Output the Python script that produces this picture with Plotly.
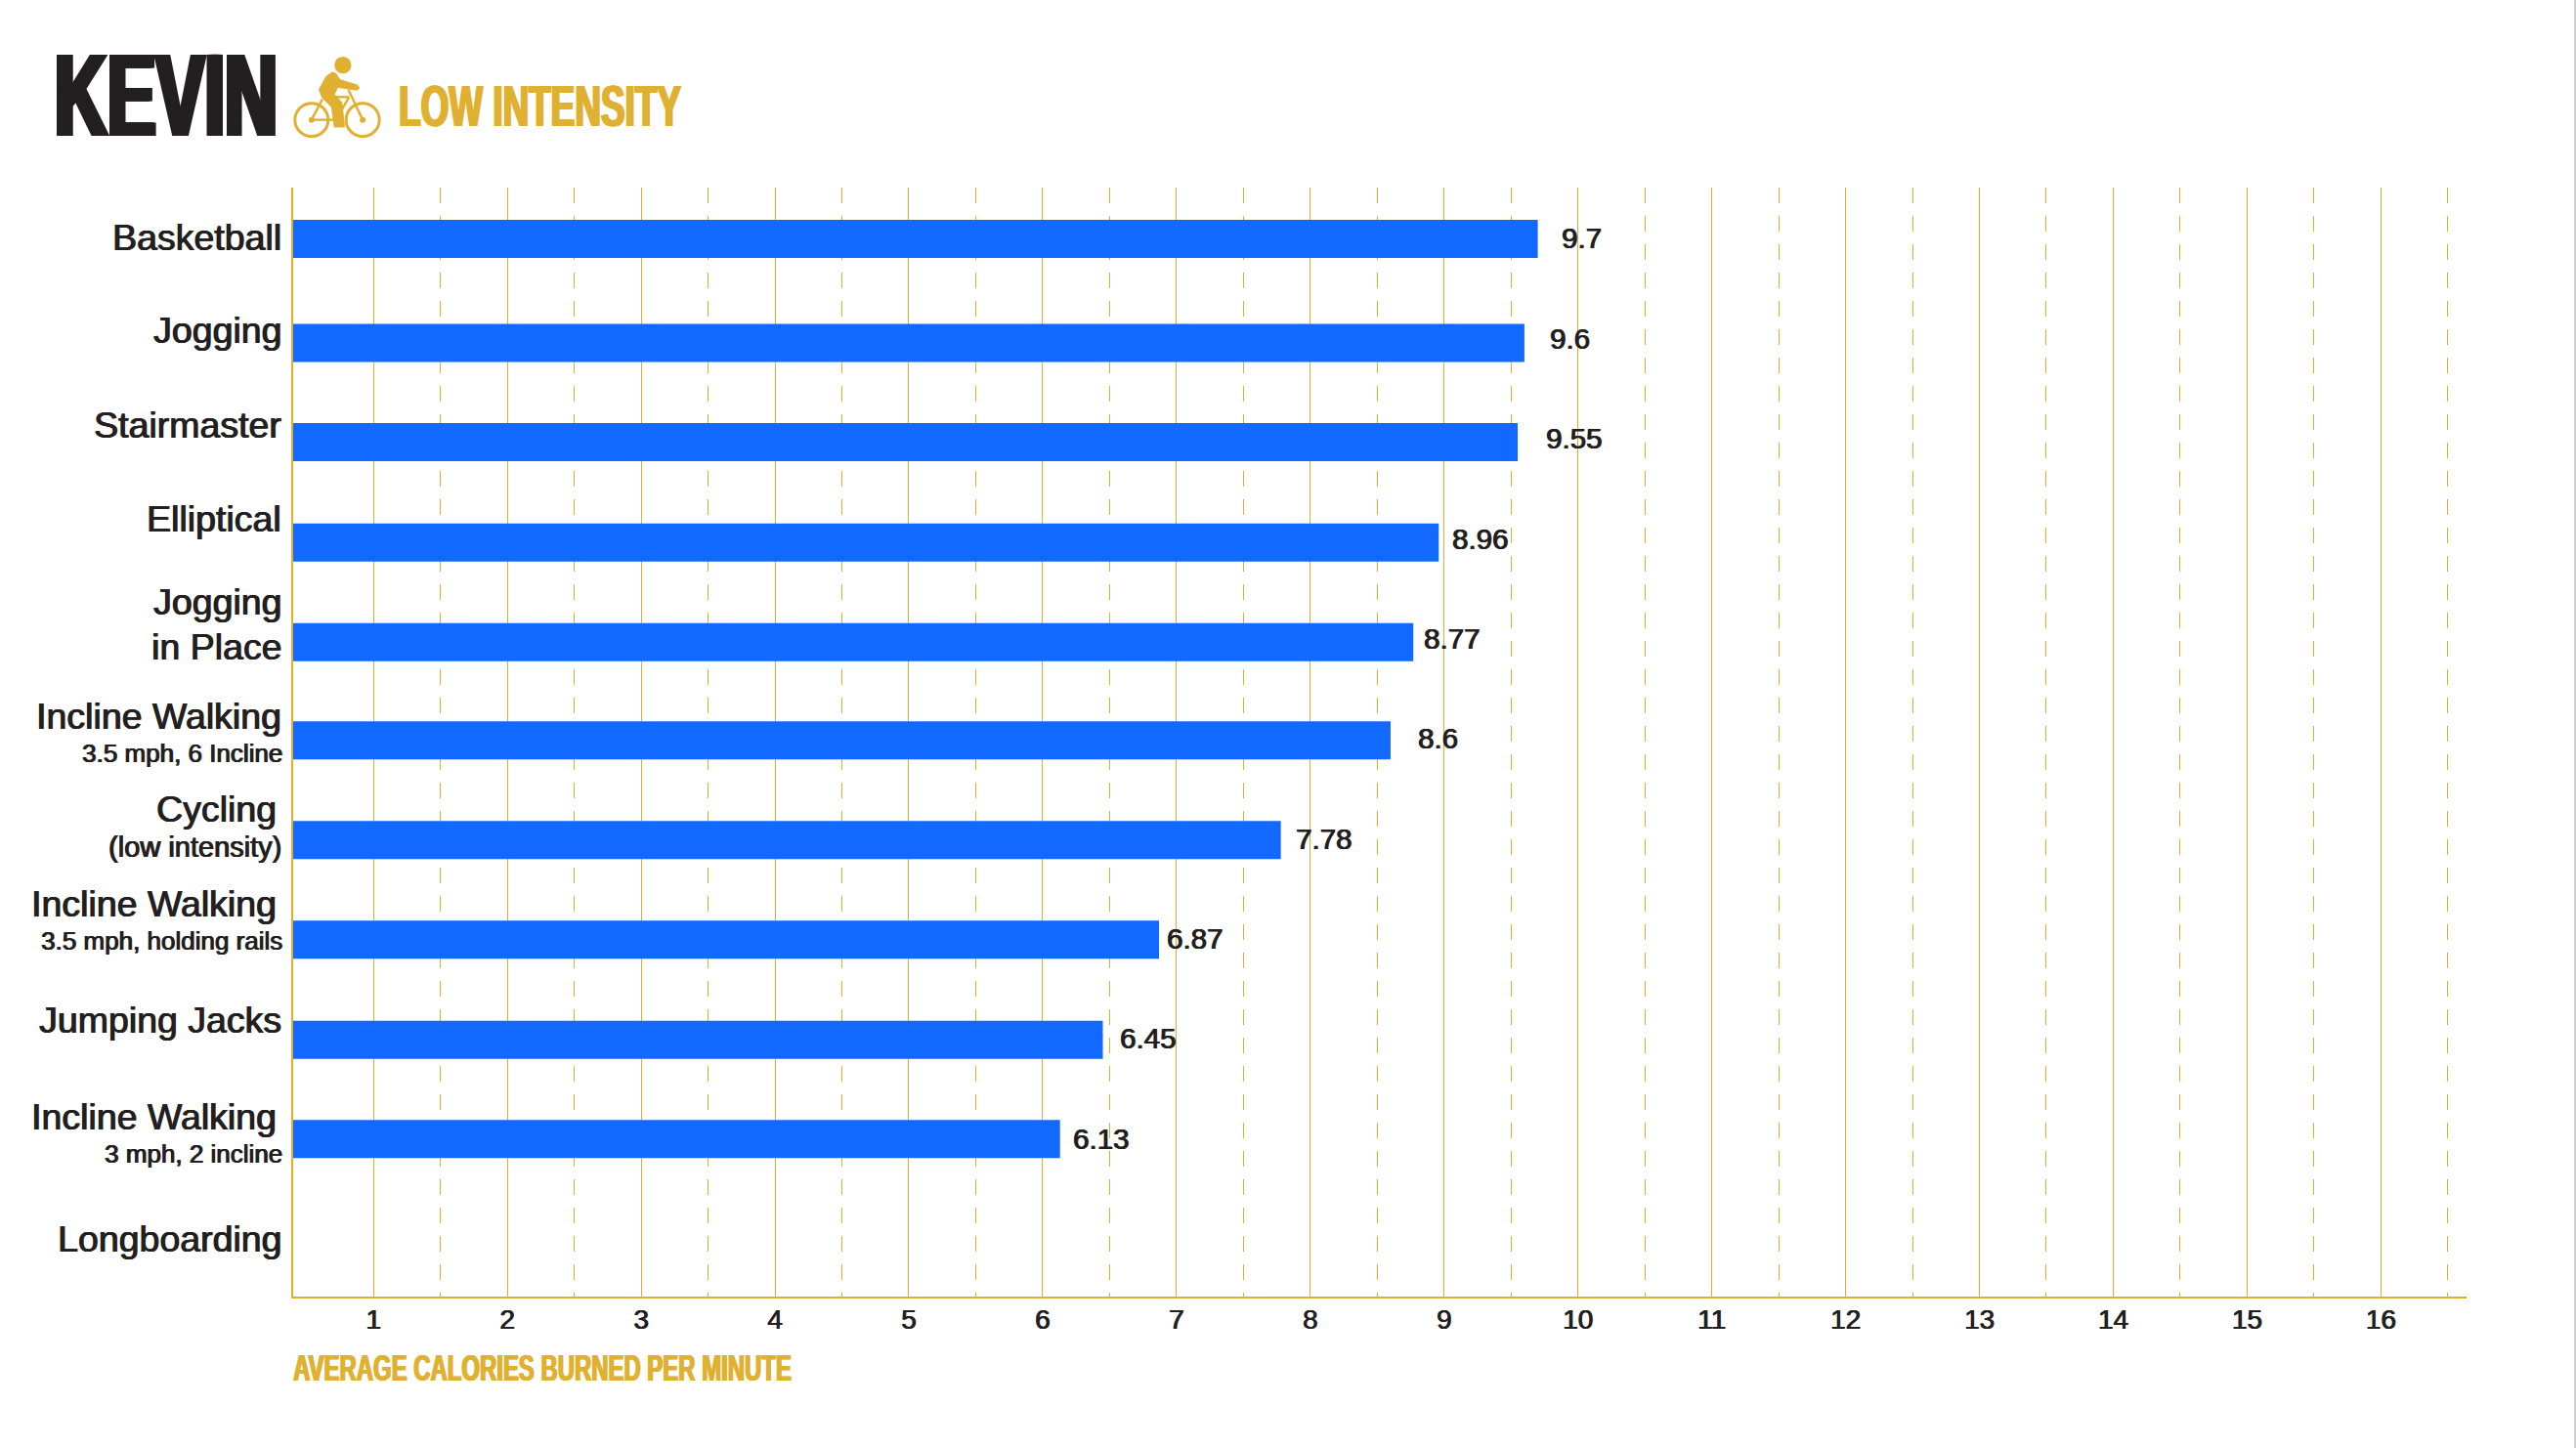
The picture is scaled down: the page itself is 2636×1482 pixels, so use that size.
import plotly.graph_objects as go

# ---- data ----
activities = ["Basketball", "Jogging", "Stairmaster", "Elliptical", "Jogging in Place",
              "Incline Walking 3.5 mph, 6 Incline", "Cycling (low intensity)",
              "Incline Walking 3.5 mph, holding rails", "Jumping Jacks",
              "Incline Walking 3 mph, 2 incline", "Longboarding"]
calories = [9.7, 9.6, 9.55, 8.96, 8.77, 8.6, 7.78, 6.87, 6.45, 6.13, None]
value_labels = ["9.7", "9.6", "9.55", "8.96", "8.77", "8.6", "7.78", "6.87", "6.45", "6.13"]
x_ticks = list(range(1, 17))
x_half_ticks = [1.5, 2.5, 3.5, 4.5, 5.5, 6.5, 7.5, 8.5, 9.5, 10.5, 11.5, 12.5, 13.5, 14.5, 15.5, 16.5]

# ---- page geometry (pixels) ----
W, H = 2636, 1482
L, R, T, B = 299.5, 2524, 192, 1326.7
def xp(x): return (x - L) / (R - L)
def yp(y): return (B - y) / (B - T)

BLUE, GOLD, GRID, INK = "#1269FF", "#E0B030", "#E2AF2C", "#231F20"
SANS = "Liberation Sans"
SHADOW = "0.7px 0 0 #231F20, -0.4px 0 0 #231F20"

# small per-bar placement tweaks, in pixels
bar_nudges = [-2.5, 2, 1.4, 1.9, 1.9, 0.3, 0.3, 0.3, 0.7, 0.1, 0]
BAR_W, STEP = 39, 102.05
offsets = [-BAR_W / STEP / 2 + n / STEP for n in bar_nudges]

fig = go.Figure(go.Bar(y=activities, x=calories, orientation="h", width=BAR_W / STEP,
                       offset=offsets, marker=dict(color=BLUE, line=dict(width=0)),
                       hoverinfo="skip"))

annotations = []
def note(text, x, y, size, anchor="right", color=INK, family=SANS, bold=False, shadow=SHADOW):
    annotations.append(dict(text=text, xref="paper", yref="paper", x=xp(x), y=yp(y),
                            xanchor=anchor, yanchor="middle", showarrow=False, borderpad=0, borderwidth=0,
                            font=dict(family=family, size=size, color=color,
                                      weight=700 if bold else 400, shadow=shadow)))

# category labels: (text, right edge, vertical centre, size)
for t, rx, cy, s in [("Basketball", 287.5, 243, 37.5), ("Jogging", 287.5, 338, 37.5),
                     ("Stairmaster", 287.5, 435, 37.5), ("Elliptical", 287.5, 531, 37.5),
                     ("Jogging", 287.5, 616, 37.5), ("in Place", 287.5, 662, 37.5),
                     ("Incline Walking", 287.5, 733, 37.5), ("3.5 mph, 6 Incline", 288.5, 771, 26),
                     ("Cycling", 282, 828, 37.5), ("(low intensity)", 287.5, 866.7, 29),
                     ("Incline Walking", 282, 925, 37.5), ("3.5 mph, holding rails", 288.5, 962.7, 26),
                     ("Jumping Jacks", 287.5, 1044, 37.5),
                     ("Incline Walking", 282, 1143, 37.5), ("3 mph, 2 incline", 288.5, 1181, 26),
                     ("Longboarding", 287.5, 1268, 37.5)]:
    note(t, rx, cy, s)

# value labels
value_left = [1598, 1586, 1582, 1486, 1457, 1451, 1326, 1193.5, 1146, 1098]
value_mid = [243, 346, 448, 551, 653, 755, 858, 960, 1062, 1165]
for t, vx, vy in zip(value_labels, value_left, value_mid):
    note(t, vx, vy, 29.5, anchor="left")

# headings
note("KEVIN", 55, 97, 120, anchor="left", bold=True,
     shadow="2px 0 0 #231F20, -2px 0 0 #231F20, 4px 0 0 #231F20, -4px 0 0 #231F20")
note("LOW INTENSITY", 408, 108.5, 60, anchor="left", color=GOLD, bold=True,
     shadow="1.5px 0 0 #E0B030, -1.5px 0 0 #E0B030")
note("AVERAGE CALORIES BURNED PER MINUTE", 299.5, 1400, 37, anchor="left", color=GOLD, bold=True,
     shadow="1px 0 0 #E0B030, -1px 0 0 #E0B030")

# cycling icon
def path(points, close=False):
    s = "M" + " L".join(f"{xp(x):.5f},{yp(y):.5f}" for x, y in points)
    return s + (" Z" if close else "")
def ix(u): return 290 + u / 3
def iy(v): return 50 + v / 3
shapes = []
shapes.append(dict(type="circle", xref="paper", yref="paper", x0=xp(ix(155)), x1=xp(ix(207)),
                   y0=yp(iy(24)), y1=yp(iy(76)), fillcolor=GOLD, line_width=0))
for cx in (85, 242):
    shapes.append(dict(type="circle", xref="paper", yref="paper", x0=xp(ix(cx - 51)), x1=xp(ix(cx + 51)),
                       y0=yp(iy(167)), y1=yp(iy(269)), fillcolor="rgba(0,0,0,0)",
                       line=dict(color=GOLD, width=3)))
    shapes.append(dict(type="circle", xref="paper", yref="paper", x0=xp(ix(cx - 9)), x1=xp(ix(cx + 9)),
                       y0=yp(iy(209)), y1=yp(iy(227)), fillcolor=GOLD, line_width=0))
body = [(148, 72), (160, 76), (172, 95), (225, 111), (232, 120), (225, 127), (165, 118), (155, 140),
        (178, 165), (186, 240), (155, 240), (147, 180), (118, 150), (108, 125), (130, 85)]
shapes.append(dict(type="path", xref="paper", yref="paper", fillcolor=GOLD, line=dict(color=GOLD, width=1),
                   path=path([(ix(u), iy(v)) for u, v in body], True)))
for seg in ([(85, 218), (118, 155)], [(85, 218), (155, 218)], [(125, 148), (200, 148)],
            [(200, 148), (160, 218)], [(242, 218), (198, 125)]):
    shapes.append(dict(type="path", xref="paper", yref="paper", line=dict(color=GOLD, width=2.4),
                       path=path([(ix(u), iy(v)) for u, v in seg])))
# page edge rule on the far right
shapes.append(dict(type="rect", xref="paper", yref="paper", x0=xp(2634), x1=xp(2636), y0=yp(0), y1=yp(H),
                   fillcolor="#D2D2D2", line_width=0))

fig.update_layout(
    width=W, height=H, autosize=False, showlegend=False,
    paper_bgcolor="white", plot_bgcolor="white",
    margin=dict(l=L, r=W - R, t=T, b=H - B, pad=0),
    annotations=annotations, shapes=shapes,
    xaxis=dict(range=[0.4, 16.64], tickvals=x_ticks, ticktext=[str(v) for v in x_ticks],
               ticks="", ticklabelstandoff=-3,
               showgrid=True, gridcolor=GRID, gridwidth=1.3, zeroline=False,
               showline=True, linecolor=GRID, linewidth=2,
               tickfont=dict(family=SANS, size=28, color=INK, shadow="0.6px 0 0 #231F20, -0.3px 0 0 #231F20"),
               minor=dict(tickmode="array", tickvals=x_half_ticks, showgrid=True,
                          gridcolor=GRID, gridwidth=1.3, griddash="16px,13px", ticks="")),
    yaxis=dict(categoryorder="array", categoryarray=activities, range=[10.58, -0.539],
               showticklabels=False, ticks="", showgrid=False, zeroline=False,
               showline=True, linecolor=GRID, linewidth=1.5),
)

# squeeze the condensed headings to the widths they occupy in the reference
post = """
document.body.style.margin = '0';
document.body.style.overflow = 'hidden';
var targets = {'KEVIN': 228, 'LOW INTENSITY': 289, 'AVERAGE CALORIES BURNED PER MINUTE': 510};
document.querySelectorAll('.annotation-text-g text, .annotation text').forEach(function (t) {
  var w = targets[t.textContent];
  if (!w || t.dataset.done) return;
  t.dataset.done = '1';
  var b = t.getBBox();
  var s = w / b.width;
  var old = t.getAttribute('transform') || '';
  t.setAttribute('transform', old + ' translate(' + b.x + ',0) scale(' + s + ',1) translate(' + (-b.x) + ',0)');
});
"""
fig.write_html("out.html", post_script=post, config={"displayModeBar": False})
